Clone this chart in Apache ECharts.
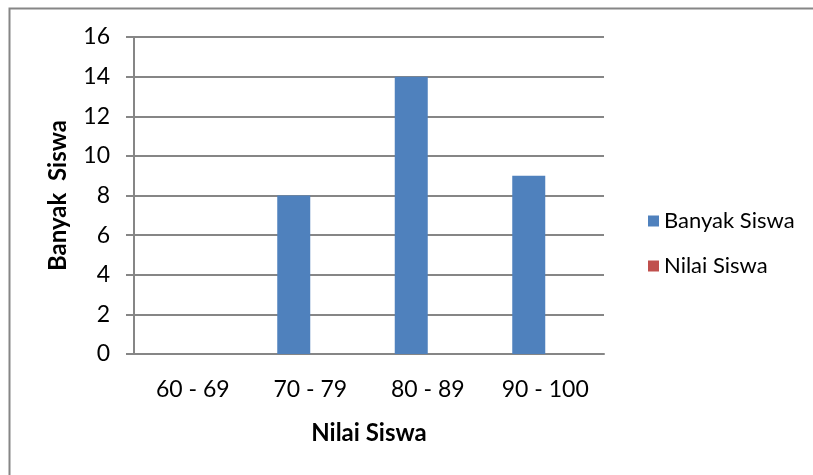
<!DOCTYPE html>
<html>
<head>
<meta charset="utf-8">
<script src="https://cdn.jsdelivr.net/npm/echarts@6/dist/echarts.min.js"></script>
<style>
  html, body { margin: 0; padding: 0; background: #fff; }
  #chart { width: 813px; height: 475px; }
</style>
</head>
<body>
<div id="chart"></div>
<script>
// Score ranges on the x axis
const categories = ['60 - 69', '70 - 79', '80 - 89', '90 - 100'];
// Number of students per range
const banyakSiswa = [0, 8, 14, 9];
// Second series shown in the legend, no visible bars
const nilaiSiswa = [0, 0, 0, 0];
// Y axis range
const yMin = 0, yMax = 16, yStep = 2;

const FONT = 'Lato, "Open Sans", sans-serif';
const chart = echarts.init(document.getElementById('chart'));

chart.setOption({
  animation: false,
  textStyle: { fontFamily: FONT },
  graphic: [{
    type: 'rect',
    shape: { x: 9.5, y: 8.5, width: 900, height: 600 },
    style: { fill: 'none', stroke: '#868686', lineWidth: 2 },
    silent: true
  }],
  grid: { left: 134, right: 209, top: 37, bottom: 121, containLabel: false },
  legend: {
    orient: 'vertical',
    left: 643,
    top: 205,
    itemWidth: 11,
    itemHeight: 11,
    itemGap: 23,
    icon: 'rect',
    textStyle: { fontFamily: FONT, fontSize: 22, color: '#000' },
    data: ['Banyak Siswa', 'Nilai Siswa']
  },
  xAxis: {
    type: 'category',
    data: categories,
    name: 'Nilai Siswa',
    nameLocation: 'middle',
    nameGap: 67,
    nameTextStyle: { fontFamily: FONT, fontSize: 24, fontWeight: 'bold', color: '#000' },
    axisLine: { lineStyle: { color: '#868686', width: 2 } },
    axisTick: { show: false },
    axisLabel: { color: '#000', fontSize: 23, margin: 24, fontFamily: FONT }
  },
  yAxis: {
    type: 'value',
    min: yMin,
    max: yMax,
    interval: yStep,
    name: 'Banyak  Siswa',
    nameLocation: 'middle',
    nameGap: 64,
    nameRotate: 90,
    nameTextStyle: { fontFamily: FONT, fontSize: 24, fontWeight: 'bold', color: '#000' },
    axisLine: { show: true, lineStyle: { color: '#868686', width: 2 } },
    axisTick: { show: true, inside: false, length: 8, lineStyle: { color: '#868686', width: 2 } },
    axisLabel: { color: '#000', fontSize: 23, margin: 24, fontFamily: FONT },
    splitLine: { lineStyle: { color: '#868686', width: 2 } }
  },
  series: [
    {
      name: 'Banyak Siswa',
      type: 'bar',
      data: banyakSiswa,
      barWidth: 33,
      barGap: '0%',
      itemStyle: { color: '#4F81BD' }
    },
    {
      name: 'Nilai Siswa',
      type: 'bar',
      data: nilaiSiswa,
      barWidth: 33,
      itemStyle: { color: '#C0504D' }
    }
  ]
});
</script>
</body>
</html>
